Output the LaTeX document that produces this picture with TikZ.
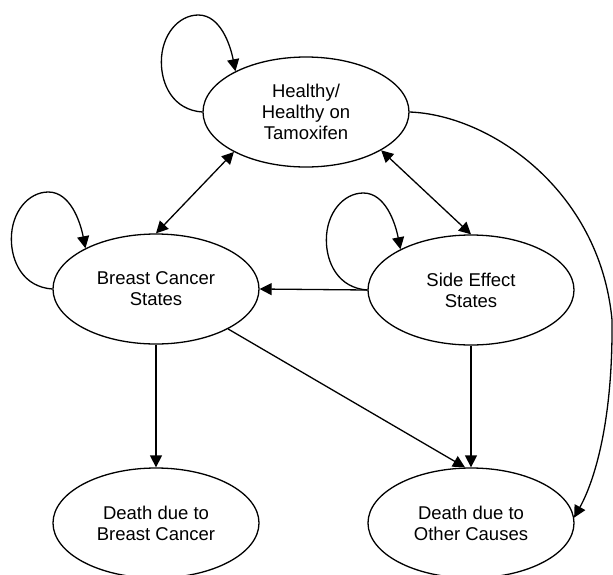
\documentclass[tikz,border=0pt]{standalone}
\usepackage{fontspec}
\setmainfont{Liberation Sans}
\usetikzlibrary{shapes.geometric,arrows.meta,calc}
\tikzset{
  state/.style={ellipse, draw, line width=1.3pt, minimum width=206pt, minimum height=110pt,
    inner sep=0pt, align=center, font=\fontsize{18.5}{21}\selectfont},
  arr/.style={line width=1.3pt, -{Triangle[length=12pt,width=12pt]}},
  darr/.style={line width=1.3pt, {Triangle[length=12pt,width=12pt]}-{Triangle[length=12pt,width=12pt]}}
}
\newcommand\myloop[1]{%
  \draw[arr] (#1.west) .. controls ($(#1.west)+(-29,-2)$) and ($(#1.west)+(-41,-27)$) ..
    ($(#1.west)+(-41,-50)$) .. controls ($(#1.west)+(-41,-77)$) and ($(#1.west)+(-24,-97)$) ..
    ($(#1.west)+(-4,-97)$) .. controls ($(#1.west)+(18,-97)$) and ($(#1.west)+(28,-67)$) .. (#1.150);}
\begin{document}
\begin{tikzpicture}[x=1pt,y=-1pt]
\useasboundingbox (0,0) rectangle (613,574);
\node[state] (H) at (306,112) {Healthy/\\Healthy on\\Tamoxifen};
\node[state] (BC) at (156,289) {Breast Cancer\\States};
\node[state] (SE) at (471,290) {Side Effect\\States};
\node[state] (DBC) at (156,523) {Death due to\\Breast Cancer};
\node[state] (DOC) at (471,523) {Death due to\\Other Causes};
\myloop{H}
\myloop{BC}
\myloop{SE}
\draw[darr] (BC.north) -- (H.209);
\draw[darr] (H.333) -- (SE.north);
\draw[arr] (SE.west) -- (BC.east);
\draw[arr] (BC.south) -- (DBC.north);
\draw[arr] (BC.331) -- ([xshift=-6pt]DOC.north);
\draw[arr] (SE.south) -- (DOC.north);
\draw[arr] (H.east) .. controls (490,115) and (600,190) .. (612,320)
  .. controls (613,420) and (595,480) .. (DOC.3);
\end{tikzpicture}
\end{document}
